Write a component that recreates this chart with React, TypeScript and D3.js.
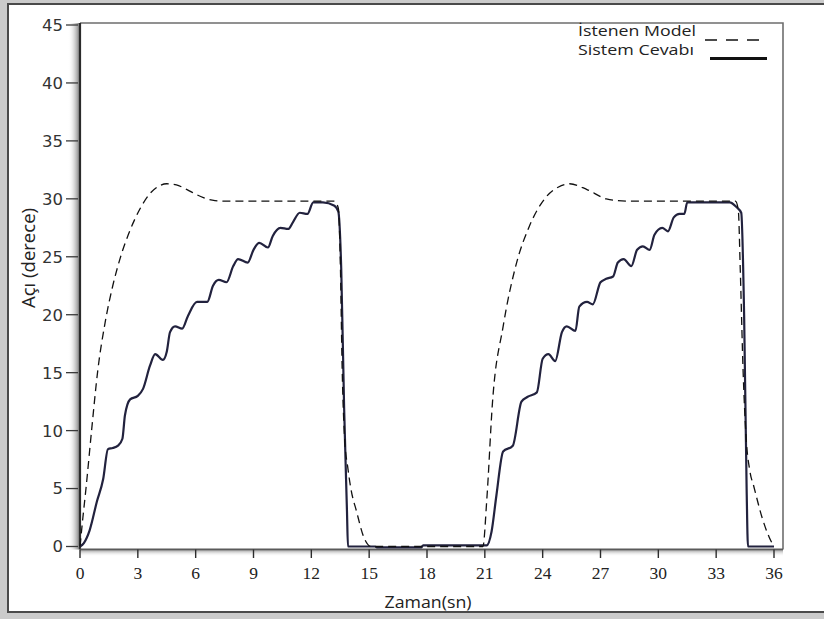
import React from "react";
import * as d3 from "d3";

// İstenen Model (reference model response), time in seconds, angle in degrees
const modelT = [
  0, 0.15, 0.31, 0.6, 0.93, 1.3, 1.7, 2.07, 2.6, 3.1, 3.6, 4.0, 4.5, 5.0, 5.55, 6.0, 6.4, 7.0, 7.6,
  13.2, 13.4, 13.5, 13.6, 13.72, 13.9, 14.05, 14.35, 14.7, 15.1,
  20.9, 21.1, 21.4, 21.95, 22.65, 23.3, 24.2, 24.8, 25.4, 26.3, 27.3, 28.4,
  34.0, 34.15, 34.25, 34.4, 34.55, 34.75, 34.95, 35.4, 35.75, 36.0,
];
const modelV = [
  0, 2.5, 5, 10, 15.3, 19.3, 22.5, 24.8, 27.3, 29.1, 30.4, 31.0, 31.3, 31.2, 30.8, 30.4, 30.1, 29.85, 29.8,
  29.8, 29.2, 24.8, 15.3, 9.5, 6.7, 5.0, 3.0, 0.9, 0,
  0, 4, 12.5, 19.0, 24.5, 27.6, 30.2, 31.0, 31.3, 30.8, 30.0, 29.8,
  29.8, 29.0, 23.9, 15.0, 9.5, 6.5, 5.2, 2.4, 0.8, 0,
];

// Sistem Cevabı (measured system response)
const systemT = [
  0, 0.2, 0.5, 0.88, 1.2, 1.45, 1.7, 1.97, 2.2, 2.33, 2.6, 3.0, 3.27, 3.63, 3.9, 4.3, 4.5, 4.67, 4.93,
  5.3, 5.6, 6.07, 6.6, 6.9, 7.2, 7.6, 7.95, 8.2, 8.7, 9.0, 9.3, 9.75, 10.0, 10.4, 10.8, 11.05, 11.4,
  11.8, 12.1, 12.6, 13.2, 13.4, 13.55, 13.7, 13.85, 13.9,
  15.3, 15.4, 17.7, 17.8, 21.0,
  21.1, 21.35, 21.6, 21.95, 22.45, 22.9, 23.2, 23.7, 24.0, 24.3, 24.65, 25.0, 25.25, 25.7, 25.9,
  26.3, 26.6, 27.0, 27.3, 27.65, 27.9, 28.2, 28.6, 28.9, 29.2, 29.55, 29.8, 30.2, 30.5, 30.8, 31.1,
  31.35, 31.5, 33.7, 34.05, 34.3, 34.45, 34.58, 34.65, 36.0,
];
const systemV = [
  0, 0.3, 1.4, 3.9, 5.8, 8.4, 8.5, 8.7, 9.3, 11.3, 12.7, 13.0, 13.6, 15.6, 16.6, 16.1, 16.8, 18.5, 19.0,
  18.8, 19.9, 21.1, 21.1, 22.5, 23.0, 22.8, 24.2, 24.8, 24.5, 25.6, 26.2, 25.8, 26.8, 27.5, 27.4, 28.0, 28.8,
  28.7, 29.7, 29.7, 29.4, 28.9, 24.0, 12.0, 3.0, 0,
  0, -0.08, -0.08, 0.1, 0.1,
  0.1, 1.3, 4.4, 8.2, 8.7, 12.5, 12.9, 13.3, 16.2, 16.6, 16.0, 18.5, 19.0, 18.6, 20.7,
  21.1, 20.9, 22.8, 23.1, 23.3, 24.5, 24.8, 24.2, 25.6, 25.9, 25.6, 26.9, 27.5, 27.2, 28.4, 28.7,
  28.7, 29.7, 29.7, 29.3, 28.8, 20.0, 5.0, 0, 0,
];

const xTicks = [0, 3, 6, 9, 12, 15, 18, 21, 24, 27, 30, 33, 36];
const yTicks = [0, 5, 10, 15, 20, 25, 30, 35, 40, 45];

const legendLabels = ["İstenen Model", "Sistem Cevabı"];
const xTitle = "Zaman(sn)";
const yTitle = "Açı (derece)";

const W = 824;
const H = 619;
const plotLeft = 80;
const plotRight = 783;
const plotTop = 23;
const axisY = 549.5;

export default function App() {
  const x = d3.scaleLinear().domain([0, 36]).range([80, 774]);
  const y = d3.scaleLinear().domain([0, 45]).range([546.5, 25]);

  const line = d3
    .line<[number, number]>()
    .x((d) => x(d[0]))
    .y((d) => y(d[1]))
    .curve(d3.curveMonotoneX);

  const modelPts = modelT.map((t, i) => [t, modelV[i]] as [number, number]);
  const systemPts = systemT.map((t, i) => [t, systemV[i]] as [number, number]);

  const sans = "'Open Sans', 'DejaVu Sans', sans-serif";

  return (
    <svg
      width={W}
      height={H}
      viewBox={`0 0 ${W} ${H}`}
      style={{ position: "absolute", left: 0, top: 0, display: "block" }}
    >
      <defs>
        <linearGradient id="yShadow" x1="0" x2="1" y1="0" y2="0">
          <stop offset="0" stopColor="#ffffff" stopOpacity="0" />
          <stop offset="1" stopColor="#7a7a7a" stopOpacity="0.9" />
        </linearGradient>
        <linearGradient id="xShadow" x1="0" x2="0" y1="0" y2="1">
          <stop offset="0" stopColor="#9a9a9a" stopOpacity="0.8" />
          <stop offset="1" stopColor="#ffffff" stopOpacity="0" />
        </linearGradient>
      </defs>

      {/* page background and outer frame */}
      <rect x={0} y={0} width={W} height={H} fill="#cbcbcb" />
      <rect x={8} y={4} width={W} height={608} fill="#ffffff" stroke="#4a4a4a" strokeWidth={2} />

      {/* axis shadows */}
      <rect x={68} y={plotTop} width={11} height={axisY - plotTop} fill="url(#yShadow)" />
      <rect x={plotLeft} y={axisY + 1} width={plotRight - plotLeft} height={6} fill="url(#xShadow)" />

      {/* plot frame */}
      <path
        d={`M${plotLeft},${plotTop}H${plotRight}V${axisY}`}
        fill="none"
        stroke="#6e6e6e"
        strokeWidth={1.6}
      />
      <line x1={plotLeft} x2={plotLeft} y1={plotTop} y2={axisY} stroke="#2b2b2b" strokeWidth={2.2} />
      <line x1={plotLeft} x2={plotRight} y1={axisY} y2={axisY} stroke="#5a5a5a" strokeWidth={2} />

      {/* y axis ticks */}
      {yTicks.map((v) => (
        <g key={`y${v}`}>
          <line x1={66} x2={78} y1={y(v)} y2={y(v)} stroke="#3a3a3a" strokeWidth={1.3} />
          <text
            x={63}
            y={y(v)}
            dy="0.36em"
            textAnchor="end"
            fontFamily="'DejaVu Sans', sans-serif"
            fontSize={16.5}
            fill="#333"
          >
            {v}
          </text>
        </g>
      ))}

      {/* x axis ticks */}
      {xTicks.map((v) => (
        <g key={`x${v}`}>
          <line x1={x(v)} x2={x(v)} y1={axisY} y2={558} stroke="#2b2b2b" strokeWidth={1.4} />
          <text
            x={x(v)}
            y={579}
            textAnchor="middle"
            fontFamily="'Liberation Serif', 'Times New Roman', serif"
            fontSize={17.5}
            fill="#222"
          >
            {v}
          </text>
        </g>
      ))}

      {/* axis titles */}
      <text
        x={428}
        y={608}
        textAnchor="middle"
        fontFamily={sans}
        fontSize={17}
        textLength={87}
        lengthAdjust="spacingAndGlyphs"
        fill="#222"
      >
        {xTitle}
      </text>
      <text
        transform="translate(35,258) rotate(-90)"
        textAnchor="middle"
        fontFamily={sans}
        fontSize={18}
        textLength={100}
        lengthAdjust="spacingAndGlyphs"
        fill="#222"
      >
        {yTitle}
      </text>

      {/* data */}
      <path d={line(systemPts) ?? ""} fill="none" stroke="#22223e" strokeWidth={2.2} strokeLinejoin="round" />
      <path d={line(modelPts) ?? ""} fill="none" stroke="#111" strokeWidth={1.3} strokeDasharray="8 5" />

      {/* legend */}
      <text
        x={696}
        y={35.5}
        textAnchor="end"
        fontFamily={sans}
        fontSize={14.5}
        textLength={118}
        lengthAdjust="spacingAndGlyphs"
        fill="#222"
      >
        {legendLabels[0]}
      </text>
      <line x1={705} x2={766} y1={40} y2={40} stroke="#111" strokeWidth={1.4} strokeDasharray="12 9" />
      <text
        x={694}
        y={55}
        textAnchor="end"
        fontFamily={sans}
        fontSize={14.5}
        textLength={116}
        lengthAdjust="spacingAndGlyphs"
        fill="#222"
      >
        {legendLabels[1]}
      </text>
      <line x1={710} x2={767} y1={58.5} y2={58.5} stroke="#111" strokeWidth={3} />
    </svg>
  );
}
